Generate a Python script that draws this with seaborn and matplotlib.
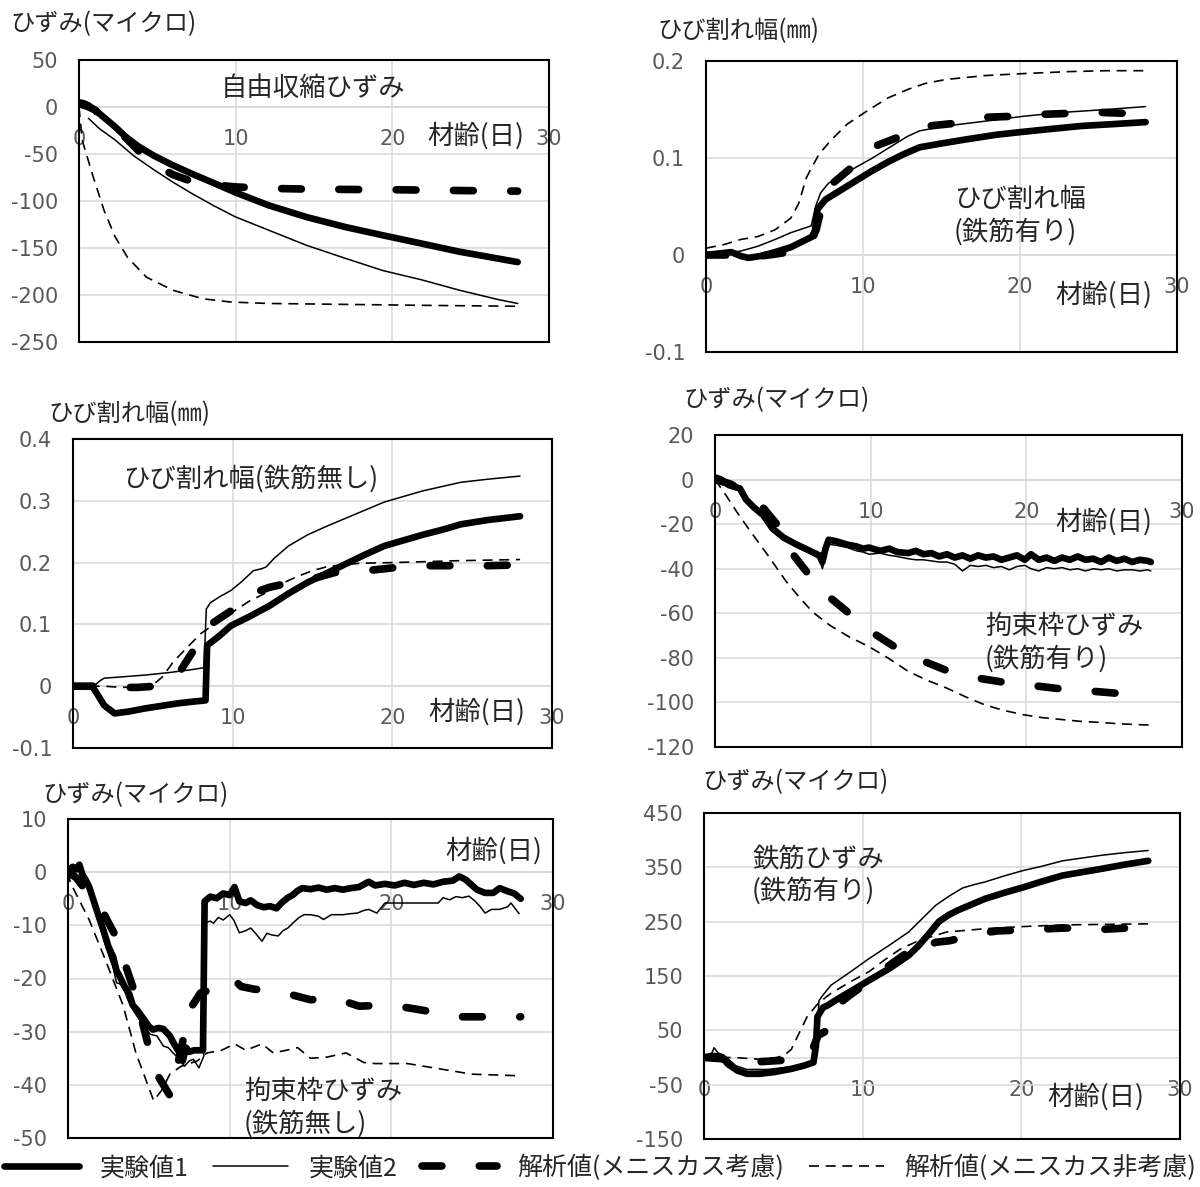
import matplotlib
matplotlib.use("Agg")
import matplotlib.pyplot as plt
from matplotlib.ticker import FuncFormatter
import seaborn as sns

sns.set_style("white")
plt.rcParams["font.family"] = ["Noto Sans CJK JP", "DejaVu Sans"]
plt.rcParams["axes.unicode_minus"] = False

# ------------------------------------------------------------------
# Data (材齢 in days)
# ------------------------------------------------------------------
# 自由収縮ひずみ
fs_exp1_day = [0, 0.3, 0.6, 1.3, 2.3, 3.0, 3.8, 4.8, 6.0, 7.2, 8.7, 10.0, 12.1, 14.5, 17.0, 19.4, 21.9, 24.3, 26.0, 28.0]
fs_exp1 = [5, 4, 1.8, -7, -21, -32, -42, -52, -62, -71, -81.6, -91, -104.6, -117, -127.7, -136.5, -145.4, -154, -159, -165]
fs_exp2_day = [0.6, 1.3, 2.3, 3.5, 4.8, 6.0, 7.2, 8.6, 10.0, 12.1, 14.5, 17.0, 19.4, 21.9, 24.3, 26.8, 28.0]
fs_exp2 = [-12, -23, -35, -52, -67, -80, -92, -105, -117, -131, -147, -161, -174, -184, -195, -205, -209]
fs_an1_day = [0, 0.5, 1.0, 2.0, 3.0, 4.0, 5.0, 6.0, 7.0, 8.0, 9.0, 10.0, 12.0, 15.0, 20.0, 25.0, 28.0]
fs_an1 = [3.5, 1, -3, -17, -33, -50, -63, -72, -78, -81, -83.5, -85, -86.5, -87.5, -88, -89, -89.5]
fs_an2_day = [0, 0.2, 0.9, 1.6, 2.3, 3.1, 4.3, 6.0, 7.9, 9.7, 12.1, 17.0, 22.0, 28.0]
fs_an2 = [0, -35, -74, -110, -138, -160, -181, -195, -204, -207.5, -209, -210, -211, -212]

# ひび割れ幅 (鉄筋有り)
crr_exp1_day = [0, 1.6, 2.2, 2.7, 3.5, 4.4, 5.4, 6.9, 7.1, 7.6, 8.6, 9.5, 10.5, 11.6, 12.6, 13.6, 15.0, 16.5, 18.5, 20.2, 22.0, 23.9, 26.0, 28.0]
crr_exp1 = [0, 0.003, -0.001, -0.003, -0.001, 0.003, 0.008, 0.02, 0.047, 0.057, 0.067, 0.076, 0.086, 0.096, 0.104, 0.111, 0.115, 0.119, 0.124, 0.127, 0.13, 0.133, 0.135, 0.137]
crr_exp2_day = [0, 2.2, 3.3, 4.4, 5.4, 6.7, 7.0, 7.3, 7.8, 8.4, 9.5, 10.5, 11.9, 12.8, 13.6, 15.3, 17.8, 20.2, 22.7, 25.5, 28.0]
crr_exp2 = [0, 0.004, 0.009, 0.016, 0.023, 0.03, 0.051, 0.064, 0.074, 0.08, 0.09, 0.099, 0.113, 0.122, 0.128, 0.133, 0.138, 0.143, 0.147, 0.15, 0.153]
crr_an1_day = [0, 1.0, 2.0, 3.0, 4.0, 5.3, 6.5, 7.0, 7.3, 7.7, 8.0, 9.4, 10.2, 10.9, 12.5, 13.5, 14.2, 16.0, 17.8, 19.6, 21.4, 23.1, 25.1, 26.8]
crr_an1 = [0, 0, 0, -0.002, 0, 0.003, 0.012, 0.025, 0.045, 0.06, 0.073, 0.092, 0.1, 0.113, 0.123, 0.13, 0.133, 0.136, 0.142, 0.143, 0.145, 0.146, 0.147, 0.146]
crr_an2_day = [0, 1.2, 2.2, 3.3, 4.4, 5.4, 5.9, 6.4, 7.2, 8.0, 9.0, 10.4, 11.6, 12.9, 14.0, 15.3, 17.8, 20.2, 23.0, 25.5, 28.0]
crr_an2 = [0.007, 0.011, 0.016, 0.019, 0.026, 0.038, 0.053, 0.08, 0.104, 0.119, 0.135, 0.15, 0.162, 0.171, 0.177, 0.181, 0.185, 0.187, 0.189, 0.19, 0.19]

# ひび割れ幅 (鉄筋無し)
crn_exp1_day = [0, 1.2, 1.5, 1.95, 2.6, 3.5, 4.5, 5.5, 6.5, 7.5, 8.3, 8.4, 9.1, 9.9, 11.0, 12.3, 13.5, 14.7, 15.9, 17.1, 18.3, 19.5, 20.7, 21.9, 23.1, 24.3, 26.0, 28.0]
crn_exp1 = [0, 0, -0.012, -0.031, -0.044, -0.041, -0.036, -0.032, -0.028, -0.025, -0.023, 0.066, 0.08, 0.098, 0.112, 0.13, 0.15, 0.168, 0.183, 0.198, 0.213, 0.227, 0.236, 0.245, 0.253, 0.262, 0.269, 0.275]
crn_exp2_day = [0, 1.3, 1.7, 1.95, 3.0, 4.5, 6.0, 7.5, 8.2, 8.35, 8.6, 9.2, 9.9, 10.6, 11.3, 11.8, 12.1, 12.6, 13.5, 14.7, 15.9, 17.1, 18.3, 19.5, 20.7, 21.9, 23.1, 24.3, 26.0, 28.0]
crn_exp2 = [0, 0, 0.009, 0.013, 0.015, 0.018, 0.022, 0.027, 0.03, 0.125, 0.135, 0.145, 0.155, 0.17, 0.187, 0.19, 0.193, 0.207, 0.227, 0.245, 0.259, 0.272, 0.285, 0.298, 0.307, 0.316, 0.323, 0.33, 0.335, 0.34]
crn_an1_day = [0, 1.3, 2.0, 3.0, 4.0, 5.2, 6.0, 6.65, 7.5, 8.0, 8.5, 9.9, 11.1, 12.3, 13.5, 14.9, 16.4, 18.4, 20.2, 22.2, 24.0, 26.0, 27.5]
crn_an1 = [0, 0, -0.001, -0.002, -0.002, 0, 0.008, 0.022, 0.056, 0.075, 0.098, 0.122, 0.149, 0.16, 0.167, 0.173, 0.184, 0.187, 0.192, 0.195, 0.195, 0.195, 0.196]
crn_an2_day = [0, 2.0, 3.0, 4.0, 5.0, 5.6, 6.3, 7.2, 8.0, 9.0, 10.0, 11.0, 12.0, 13.0, 14.0, 15.0, 16.0, 18.0, 20.0, 24.0, 28.0]
crn_an2 = [0, 0, -0.002, -0.001, 0.002, 0.015, 0.04, 0.064, 0.085, 0.103, 0.12, 0.137, 0.15, 0.165, 0.177, 0.187, 0.194, 0.199, 0.2, 0.203, 0.205]

# 拘束枠ひずみ (鉄筋有り)
rfr_day = [0, 0.4, 0.9, 1.6, 2.0, 2.5, 3.1, 3.7, 4.4, 5.2, 6.1, 6.7, 6.9, 7.1, 7.3, 7.8, 8.5, 9.1, 9.5, 9.9, 10.6,
           11.2, 11.7, 12.4, 12.9, 13.4, 13.9, 14.4, 14.9, 15.4, 15.9, 16.4, 16.9, 17.4, 17.9, 18.4, 18.9,
           19.4, 19.9, 20.3, 20.8, 21.3, 21.8, 22.3, 22.8, 23.3, 23.8, 24.3, 24.8, 25.3, 25.8, 26.3, 26.8,
           27.3, 27.8, 28.0]
rfr_exp1 = [1, 0, -2.5, -4, -9, -12.5, -16, -22, -26, -29, -32, -34, -37, -31, -27, -27.7, -29.2, -30, -31, -30.5, -32,
            -31, -32.5, -33, -32, -33.5, -33, -34.5, -33.5, -35, -34, -35.5, -34, -35, -34.5, -36, -35,
            -34, -36, -33.5, -36, -35, -36.5, -35, -36, -34.5, -36, -35.5, -37, -35, -36.5, -35.5, -37,
            -36, -36.5, -37]
rfr_exp2 = [1, -0.5, -3, -5, -10, -13.5, -17, -23, -27, -30, -33, -35.5, -40, -34, -29, -29.5, -30.5, -32, -32.5, -33.5, -33,
            -34, -34.5, -35.5, -36, -36, -36.5, -37, -37, -38, -41, -38.5, -39, -38.5, -39.5, -39, -40.5,
            -39, -38.5, -40, -41, -39.5, -40, -39.5, -40.5, -40, -41, -40, -40.5, -40, -41, -40.5, -40.5,
            -41, -40.5, -41]
rfr_an1_day = [0, 1.0, 2.0, 3.1, 4.0, 4.5, 5.1, 6.1, 6.8, 7.5, 8.7, 10.1, 11.6, 13.4, 15.0, 16.8, 18.6, 20.5, 22.3, 24.3, 26.0]
rfr_an1 = [0, -2, -6, -12.7, -20.3, -25, -34.4, -43.3, -49, -53.6, -60.5, -68.6, -75.3, -81.5, -86, -89, -91, -92.5, -94, -95, -96]
rfr_an2_day = [0, 0.7, 1.4, 2.2, 3.3, 4.6, 5.5, 6.3, 7.4, 8.6, 9.9, 11.1, 12.4, 13.6, 14.9, 16.1, 17.3, 18.5, 19.8, 21.0, 22.3, 23.5, 24.8, 26.0, 28.0]
rfr_an2 = [0, -7, -14.5, -22.5, -33, -46, -53.5, -59.6, -65.5, -70.5, -75, -80, -86, -90, -93.6, -97.5, -101, -103.5, -105.5, -106.8, -107.7, -108.5, -109, -109.6, -110.2]

# 拘束枠ひずみ (鉄筋無し)
rfn_exp1_day = [0, 0.3, 0.5, 0.7, 0.9, 1.1, 1.3, 1.6, 1.9, 2.2, 2.5, 2.8, 3.0, 3.2, 3.5, 3.8, 4.0, 4.3, 4.7, 5.0,
                5.25, 5.6, 5.9, 6.3, 6.6, 6.9, 7.1, 7.3, 7.5, 7.8, 8.1, 8.35, 8.45, 8.8, 9.2, 9.6, 10.0, 10.3,
                10.6, 11.0, 11.3, 11.7, 12.1, 12.5, 12.9, 13.2, 13.6, 13.9, 14.2, 14.5, 15.0, 15.5, 16.0, 16.5,
                17.0, 17.5, 18.0, 18.6, 19.0, 19.6, 20.2, 20.8, 21.4, 22.0, 22.6, 23.2, 23.8, 24.2, 24.6, 25.0,
                25.3, 25.8, 26.3, 26.7, 27.2, 27.6, 28.0]
rfn_exp1 = [0.5, 1.0, 0.5, 1.4, -0.5, -1.5, -2.7, -5.5, -8.3, -11, -14, -16, -18.5, -19.6, -21.5, -23, -25, -26, -27.7, -29,
            -29.6, -29.3, -29.5, -30.8, -32.5, -34, -35.5, -33, -33.8, -33.5, -33.5, -33.5, -5.5, -4.6, -4.9, -4.0, -4.3, -2.8,
            -5.5, -5.8, -5.3, -6.2, -6.6, -6.4, -6.8, -5.8, -4.8, -4.3, -3.5, -3.0, -3.2, -2.9, -3.3, -3.0,
            -3.3, -3.0, -2.8, -1.8, -2.5, -2.2, -2.5, -2.0, -2.4, -2.0, -2.3, -1.8, -1.6, -0.8, -1.4, -2.5,
            -3.3, -3.9, -3.9, -3.0, -3.6, -4.0, -5.0]
rfn_exp2_day = [0, 0.3, 0.5, 0.7, 0.9, 1.1, 1.3, 1.6, 1.9, 2.2, 2.5, 2.8, 3.0, 3.2, 3.4, 3.7, 4.0, 4.4, 4.8, 5.1,
                5.5, 5.9, 6.2, 6.5, 6.9, 7.2, 7.5, 7.75, 8.1, 8.4, 8.5, 8.8, 9.0, 9.3, 9.6, 10.0, 10.25, 10.6,
                11.0, 11.3, 11.6, 12.0, 12.3, 12.6, 13.0, 13.3, 13.6, 13.9, 14.3, 14.6, 15.0, 15.5, 15.8, 16.3,
                17.0, 17.5, 17.9, 18.3, 18.6, 19.1, 19.6, 20.2, 21.0, 22.0, 22.9, 23.2, 23.6, 24.0, 24.4, 24.8,
                25.2, 25.5, 25.8, 26.2, 26.7, 27.2, 27.4, 27.7, 27.9]
rfn_exp2 = [0.5, 1.0, 0.3, 1.2, -0.8, -2, -3.5, -6.5, -9.5, -12.5, -15.5, -18, -20.8, -21, -21.5, -24, -25.8, -27.7, -29.5, -30.5,
            -30.8, -32.7, -33, -34, -35.2, -36.5, -35.5, -35.2, -36.8, -34.6, -9.5, -9.2, -9.6, -8.5, -9.0, -8.0, -9.0, -11.4,
            -11, -10.5, -11.5, -13, -11.5, -11.8, -12, -11, -10.5, -9.6, -8.5, -8.0, -8.0, -8.3, -8.9, -8.0,
            -8.0, -7.8, -7.7, -7.2, -7.0, -7.7, -5.8, -5.8, -5.8, -5.8, -5.8, -4.8, -5.2, -4.6, -4.8, -4.5,
            -5.5, -6.5, -7.7, -7.0, -7.0, -6.5, -5.8, -7.0, -7.8]
rfn_an1_day = [0, 0.5, 1.0, 1.5, 2.0, 2.5, 3.0, 3.5, 4.0, 4.5, 5.0, 5.5, 6.0, 6.3, 6.8, 7.3, 7.6, 8.2, 9.0, 9.5, 10.2,
               10.7, 11.5, 12.5, 13.5, 15.0, 16.5, 18.0, 20.0, 22.0, 24.0, 26.0, 28.0]
rfn_an1 = [0, -1, -3, -4.5, -6.5, -9.5, -12.3, -17, -21.5, -27, -33, -38, -40.5, -42, -36, -29, -25.5, -22.7, -22, -21.2, -20,
           -21.5, -22, -22.3, -22.8, -24, -23.7, -25.2, -25, -26, -27.2, -27.2, -27.2]
rfn_an2_day = [0, 0.15, 1.3, 2.3, 3.4, 4.2, 5.3, 5.8, 6.3, 7.0, 7.5, 8.0, 8.6, 9.5, 10.3, 11.0, 12.0, 12.7, 13.5, 14.2,
               15.0, 16.0, 17.2, 18.3, 19.0, 21.0, 23.0, 25.0, 28.0]
rfn_an2 = [0, -2, -8.9, -16.4, -25, -34, -43, -41, -38, -36.5, -36, -35.5, -34, -33.5, -32.3, -33.5, -32.3, -34, -33.5, -33,
           -35, -34.8, -34, -35.8, -36, -36, -37, -38, -38.3]

# 鉄筋ひずみ (鉄筋有り)
rb_exp1_day = [0, 0.5, 0.9, 1.16, 1.5, 2.1, 2.7, 3.5, 4.4, 5.5, 6.3, 6.9, 7.05, 7.15, 7.5, 7.8, 8.5, 9.2, 10.4, 11.7,
               12.9, 13.5, 14.1, 14.8, 15.4, 16.0, 17.7, 18.9, 20.1, 21.3, 22.6, 23.8, 25.0, 26.5, 28.0]
rb_exp1 = [0, 3, 2, 0, -12, -24, -30, -30, -27, -21, -15, -9, 20, 75, 92, 96, 109, 121, 142, 164,
           188, 205, 225, 250, 262, 271, 292, 303, 313, 324, 335, 341, 347, 355, 362]
rb_exp2_day = [0, 0.5, 0.63, 0.9, 1.2, 1.5, 2.0, 2.7, 4.0, 5.5, 6.5, 7.0, 7.15, 7.25, 7.5, 8.0, 9.2, 10.4, 11.7, 12.9,
               13.8, 14.6, 15.5, 16.3, 17.0, 17.7, 18.9, 20.1, 21.3, 22.6, 23.8, 25.0, 26.5, 28.0]
rb_exp2 = [0, 8, 18, 8, 5, -2, -15, -22, -22, -17, -12, -8, 60, 105, 115, 133, 157, 182, 207, 231,
           257, 280, 298, 312, 318, 323, 334, 344, 352, 362, 367, 372, 377, 381]
rb_an1_day = [0, 1.0, 2.0, 3.4, 4.5, 5.1, 6.0, 6.8, 7.2, 7.6, 8.0, 9.2, 10.4, 11.7, 12.9, 14.0, 14.2, 14.6, 15.5, 16.5,
              17.5, 18.5, 19.5, 21.0, 22.5, 24.0, 25.2, 26.5]
rb_an1 = [0, -2, -6, -8, -6, -5, 0, 12, 41, 47, 87, 115, 140, 170, 195, 216, 207, 212, 215, 222,
          229, 233, 234, 236, 238, 239, 236, 238]
rb_an2_day = [0, 1.9, 3.4, 4.6, 5.1, 5.5, 6.1, 6.5, 7.2, 8.0, 9.2, 10.4, 11.4, 12.4, 13.6, 15.3, 17.7, 20.1, 22.6, 28.0]
rb_an2 = [0, 0, -3, 0, 5, 15, 51, 75, 100, 118, 139, 158, 180, 200, 216, 231, 237, 241, 244, 246]

SERIES_NAMES = ["実験値1", "実験値2", "解析値(メニスカス考慮)", "解析値(メニスカス非考慮)"]
AGE_LABEL = "材齢(日)"
X_TICKS = [0, 10, 20, 30]

# ------------------------------------------------------------------
# Styling
# ------------------------------------------------------------------
W, H = 1200, 1187
GRID_C = "#D9D9D9"
TICK_C = "#595959"
CJK = ["Noto Sans CJK JP", "DejaVu Sans"]

LINE_STYLES = [
    dict(linewidth=4.8, linestyle="-", solid_capstyle="round", solid_joinstyle="round"),
    dict(linewidth=1.1, linestyle="-"),
    dict(linewidth=5.5, linestyle=(0, (2.6, 4.9)), dash_capstyle="round", dash_joinstyle="round"),
    dict(linewidth=1.2, linestyle=(0, (6, 4))),
]

fig = plt.figure(figsize=(W / 100, H / 100), dpi=100)
fig.patch.set_facecolor("white")


def px(x, y):
    """Pixel position (from top-left) to figure fraction."""
    return x / W, 1 - y / H


panels = [
    dict(box=(79, 60, 549, 342), ylim=(-250, 50), yticks=list(range(-250, 51, 50)),
         ylabel="ひずみ(マイクロ)", ylabel_at=(10, 24),
         notes=[("自由収縮ひずみ", 313, 88, "center")], age_at=(476, 136),
         series=[(fs_exp1_day, fs_exp1), (fs_exp2_day, fs_exp2), (fs_an1_day, fs_an1), (fs_an2_day, fs_an2)]),
    dict(box=(706, 61, 1177, 352), ylim=(-0.1, 0.2), yticks=[-0.1, 0, 0.1, 0.2],
         ylabel="ひび割れ幅(㎜)", ylabel_at=(657, 31),
         notes=[("ひび割れ幅\n(鉄筋有り)", 954, 216, "left")], age_at=(1104, 295),
         series=[(crr_exp1_day, crr_exp1), (crr_exp2_day, crr_exp2), (crr_an1_day, crr_an1), (crr_an2_day, crr_an2)]),
    dict(box=(73, 439, 552, 748), ylim=(-0.1, 0.4), yticks=[-0.1, 0, 0.1, 0.2, 0.3, 0.4],
         ylabel="ひび割れ幅(㎜)", ylabel_at=(48, 414),
         notes=[("ひび割れ幅(鉄筋無し)", 251, 479, "center")], age_at=(477, 712),
         series=[(crn_exp1_day, crn_exp1), (crn_exp2_day, crn_exp2), (crn_an1_day, crn_an1), (crn_an2_day, crn_an2)]),
    dict(box=(715, 435, 1182, 747), ylim=(-120, 20), yticks=list(range(-120, 21, 20)),
         ylabel="ひずみ(マイクロ)", ylabel_at=(683, 400),
         notes=[("拘束枠ひずみ\n(鉄筋有り)", 985, 643, "left")], age_at=(1104, 522),
         series=[(rfr_day, rfr_exp1), (rfr_day, rfr_exp2), (rfr_an1_day, rfr_an1), (rfr_an2_day, rfr_an2)]),
    dict(box=(68, 819, 553, 1138), ylim=(-50, 10), yticks=list(range(-50, 11, 10)),
         ylabel="ひずみ(マイクロ)", ylabel_at=(42, 795),
         notes=[("拘束枠ひずみ\n(鉄筋無し)", 244, 1108, "left")], age_at=(494, 851),
         series=[(rfn_exp1_day, rfn_exp1), (rfn_exp2_day, rfn_exp2), (rfn_an1_day, rfn_an1), (rfn_an2_day, rfn_an2)]),
    dict(box=(704, 813, 1180, 1139), ylim=(-150, 450), yticks=list(range(-150, 451, 100)),
         ylabel="ひずみ(マイクロ)", ylabel_at=(702, 782),
         notes=[("鉄筋ひずみ\n(鉄筋有り)", 752, 875, "left")], age_at=(1096, 1097),
         series=[(rb_exp1_day, rb_exp1), (rb_exp2_day, rb_exp2), (rb_an1_day, rb_an1), (rb_an2_day, rb_an2)]),
]

legend_handles = None
for p in panels:
    l, t, r, b = p["box"]
    ax = fig.add_axes([l / W, 1 - b / H, (r - l) / W, (b - t) / H])
    ax.set_facecolor("white")

    for (xs, ys), style in zip(p["series"], LINE_STYLES):
        sns.lineplot(x=xs, y=ys, ax=ax, color="black", estimator=None, sort=False, **style)

    ax.set_xlim(0, 30)
    ax.set_ylim(*p["ylim"])
    ax.set_xticks(X_TICKS)
    ax.set_yticks(p["yticks"])
    ax.yaxis.set_major_formatter(FuncFormatter(lambda v, _: f"{v:g}"))
    ax.tick_params(axis="x", length=0, labelbottom=False)
    ax.tick_params(axis="y", length=0, pad=15, labelsize=15, labelcolor=TICK_C,
                   labelfontfamily="DejaVu Sans")
    ax.grid(True, color=GRID_C, linewidth=1.1)
    ax.set_axisbelow(True)
    for sp in ax.spines.values():
        sp.set_visible(True)
        sp.set_color("black")
        sp.set_linewidth(1.5)

    # horizontal axis crossing at zero
    sec = ax.secondary_xaxis(0, transform=ax.transData)
    sec.set_xticks(X_TICKS)
    sec.tick_params(length=0, pad=16, labelsize=15, labelcolor=TICK_C,
                    labelfontfamily="DejaVu Sans")
    sec.spines["bottom"].set_color(GRID_C)
    sec.spines["bottom"].set_linewidth(1.1)

    # texts
    fig.text(*px(*p["ylabel_at"]), p["ylabel"], ha="left", va="center", fontsize=17.5, family=CJK)
    for txt, x, y, ha in p["notes"]:
        fig.text(*px(x, y), txt, ha=ha, va="center", fontsize=19, family=CJK, linespacing=1.25)
    fig.text(*px(*p["age_at"]), AGE_LABEL, ha="center", va="center", fontsize=19, family=CJK)

    if legend_handles is None:
        legend_handles = list(ax.get_lines())[:4]

fig.legend(legend_handles, SERIES_NAMES, loc="center", bbox_to_anchor=px(600, 1168), ncol=4,
           frameon=False, fontsize=18, handlelength=3.0, handletextpad=0.8, columnspacing=1.0,
           borderpad=0, borderaxespad=0)

fig.savefig("out.png", dpi=100, facecolor="white")
